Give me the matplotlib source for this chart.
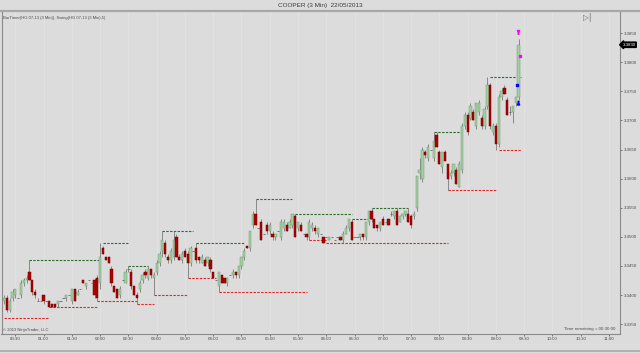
"""COOPER (3 Min) 22/05/2013 - NinjaTrader style candlestick chart with swing lines."""
import numpy as np
import matplotlib
matplotlib.use("Agg")
import matplotlib.pyplot as plt
import matplotlib.transforms as mtrans

plt.rcParams['font.family'] = ['Liberation Sans', 'DejaVu Sans']

TITLE = "COOPER (3 Min)  22/05/2013"
INDICATORS = "BarTimer(HG 07-13 (3 Min)), Swing(HG 07-13 (3 Min),5)"
FIRST_BAR = "00:18"

opens = [
    3.3390, 3.3395, 3.3375, 3.3395, 3.3400, 3.3395, 3.3400, 3.3420, 3.3425, 3.3440,
    3.3425, 3.3405, 3.3390, 3.3390, 3.3400, 3.3390, 3.3390, 3.3385, 3.3385, 3.3385,
    3.3390, 3.3395, 3.3395, 3.3400, 3.3390, 3.3410, 3.3400, 3.3410, 3.3425, 3.3415,
    3.3425, 3.3420, 3.3425, 3.3430, 3.3420, 3.3480, 3.3465, 3.3465, 3.3445, 3.3415,
    3.3410, 3.3400, 3.3425, 3.3420, 3.3445, 3.3440, 3.3415, 3.3400, 3.3410, 3.3425,
    3.3440, 3.3430, 3.3445, 3.3430, 3.3440, 3.3455, 3.3475, 3.3490, 3.3465, 3.3460,
    3.3465, 3.3500, 3.3465, 3.3460, 3.3475, 3.3470, 3.3455, 3.3475, 3.3480, 3.3465,
    3.3455, 3.3460, 3.3455, 3.3460, 3.3440, 3.3425, 3.3415, 3.3435, 3.3430, 3.3420,
    3.3435, 3.3435, 3.3440, 3.3435, 3.3450, 3.3465, 3.3485, 3.3480, 3.3520, 3.3540,
    3.3515, 3.3525, 3.3505, 3.3520, 3.3510, 3.3505, 3.3500, 3.3510, 3.3500, 3.3515,
    3.3520, 3.3515, 3.3520, 3.3535, 3.3515, 3.3520, 3.3505, 3.3505, 3.3500, 3.3515,
    3.3515, 3.3505, 3.3505, 3.3500, 3.3500, 3.3495, 3.3500, 3.3495, 3.3500, 3.3500,
    3.3495, 3.3505, 3.3515, 3.3525, 3.3500, 3.3500, 3.3500, 3.3505, 3.3500, 3.3525,
    3.3545, 3.3530, 3.3520, 3.3515, 3.3530, 3.3525, 3.3530, 3.3540, 3.3535, 3.3545,
    3.3525, 3.3535, 3.3540, 3.3540, 3.3535, 3.3535, 3.3550, 3.3610, 3.3600, 3.3645,
    3.3635, 3.3650, 3.3635, 3.3675, 3.3645, 3.3620, 3.3645, 3.3625, 3.3605, 3.3610,
    3.3615, 3.3585, 3.3615, 3.3690, 3.3710, 3.3705, 3.3715, 3.3690, 3.3715, 3.3705,
    3.3690, 3.3725, 3.3760, 3.3680, 3.3690, 3.3660, 3.3740, 3.3755, 3.3735, 3.3715,
    3.3715, 3.3730, 3.3740,
]
highs = [
    3.3400, 3.3400, 3.3395, 3.3410, 3.3410, 3.3395, 3.3425, 3.3430, 3.3435, 3.3460,
    3.3425, 3.3410, 3.3395, 3.3390, 3.3400, 3.3390, 3.3390, 3.3385, 3.3385, 3.3390,
    3.3390, 3.3395, 3.3400, 3.3400, 3.3410, 3.3410, 3.3410, 3.3410, 3.3425, 3.3420,
    3.3425, 3.3420, 3.3430, 3.3435, 3.3490, 3.3485, 3.3465, 3.3465, 3.3450, 3.3415,
    3.3410, 3.3415, 3.3425, 3.3445, 3.3450, 3.3445, 3.3415, 3.3405, 3.3425, 3.3440,
    3.3445, 3.3450, 3.3445, 3.3440, 3.3460, 3.3475, 3.3510, 3.3495, 3.3470, 3.3480,
    3.3510, 3.3505, 3.3470, 3.3475, 3.3480, 3.3475, 3.3485, 3.3475, 3.3490, 3.3465,
    3.3470, 3.3465, 3.3465, 3.3465, 3.3440, 3.3425, 3.3440, 3.3435, 3.3430, 3.3430,
    3.3435, 3.3445, 3.3440, 3.3450, 3.3465, 3.3480, 3.3485, 3.3510, 3.3545, 3.3565,
    3.3515, 3.3530, 3.3505, 3.3525, 3.3525, 3.3510, 3.3505, 3.3510, 3.3530, 3.3530,
    3.3525, 3.3530, 3.3540, 3.3540, 3.3525, 3.3525, 3.3505, 3.3505, 3.3530, 3.3525,
    3.3520, 3.3515, 3.3505, 3.3500, 3.3500, 3.3500, 3.3500, 3.3495, 3.3500, 3.3500,
    3.3510, 3.3520, 3.3530, 3.3530, 3.3500, 3.3500, 3.3505, 3.3505, 3.3525, 3.3545,
    3.3550, 3.3530, 3.3520, 3.3525, 3.3535, 3.3525, 3.3530, 3.3545, 3.3545, 3.3550,
    3.3535, 3.3540, 3.3545, 3.3550, 3.3540, 3.3545, 3.3605, 3.3635, 3.3655, 3.3650,
    3.3660, 3.3650, 3.3680, 3.3680, 3.3650, 3.3645, 3.3650, 3.3625, 3.3615, 3.3625,
    3.3620, 3.3630, 3.3695, 3.3715, 3.3715, 3.3730, 3.3720, 3.3730, 3.3735, 3.3710,
    3.3725, 3.3775, 3.3765, 3.3695, 3.3695, 3.3745, 3.3755, 3.3760, 3.3740, 3.3725,
    3.3725, 3.3740, 3.3840,
]
lows = [
    3.3385, 3.3370, 3.3370, 3.3390, 3.3395, 3.3395, 3.3395, 3.3415, 3.3420, 3.3425,
    3.3400, 3.3395, 3.3390, 3.3390, 3.3385, 3.3390, 3.3380, 3.3380, 3.3380, 3.3380,
    3.3390, 3.3395, 3.3390, 3.3400, 3.3385, 3.3390, 3.3400, 3.3410, 3.3420, 3.3410,
    3.3425, 3.3420, 3.3395, 3.3390, 3.3410, 3.3470, 3.3460, 3.3455, 3.3415, 3.3405,
    3.3395, 3.3395, 3.3425, 3.3420, 3.3440, 3.3410, 3.3400, 3.3385, 3.3405, 3.3420,
    3.3430, 3.3425, 3.3430, 3.3400, 3.3435, 3.3450, 3.3465, 3.3465, 3.3455, 3.3455,
    3.3460, 3.3465, 3.3460, 3.3455, 3.3465, 3.3430, 3.3450, 3.3475, 3.3455, 3.3455,
    3.3455, 3.3450, 3.3450, 3.3440, 3.3430, 3.3425, 3.3405, 3.3420, 3.3420, 3.3415,
    3.3435, 3.3430, 3.3430, 3.3430, 3.3445, 3.3460, 3.3480, 3.3475, 3.3515, 3.3520,
    3.3515, 3.3495, 3.3505, 3.3505, 3.3505, 3.3495, 3.3495, 3.3510, 3.3495, 3.3510,
    3.3510, 3.3515, 3.3515, 3.3500, 3.3510, 3.3510, 3.3505, 3.3495, 3.3495, 3.3510,
    3.3505, 3.3500, 3.3505, 3.3490, 3.3500, 3.3495, 3.3500, 3.3495, 3.3500, 3.3495,
    3.3490, 3.3505, 3.3510, 3.3495, 3.3500, 3.3500, 3.3495, 3.3495, 3.3495, 3.3520,
    3.3525, 3.3515, 3.3510, 3.3510, 3.3520, 3.3525, 3.3520, 3.3535, 3.3530, 3.3520,
    3.3525, 3.3530, 3.3535, 3.3525, 3.3515, 3.3530, 3.3545, 3.3600, 3.3595, 3.3635,
    3.3630, 3.3650, 3.3630, 3.3655, 3.3625, 3.3610, 3.3630, 3.3580, 3.3600, 3.3605,
    3.3590, 3.3585, 3.3610, 3.3685, 3.3675, 3.3700, 3.3700, 3.3685, 3.3710, 3.3685,
    3.3685, 3.3720, 3.3685, 3.3675, 3.3650, 3.3655, 3.3735, 3.3745, 3.3710, 3.3710,
    3.3695, 3.3725, 3.3735,
]
closes = [
    3.3395, 3.3375, 3.3390, 3.3405, 3.3410, 3.3395, 3.3420, 3.3425, 3.3430, 3.3425,
    3.3405, 3.3400, 3.3390, 3.3390, 3.3390, 3.3390, 3.3380, 3.3380, 3.3380, 3.3390,
    3.3390, 3.3395, 3.3400, 3.3400, 3.3410, 3.3390, 3.3405, 3.3410, 3.3420, 3.3420,
    3.3425, 3.3420, 3.3400, 3.3395, 3.3465, 3.3470, 3.3460, 3.3455, 3.3420, 3.3405,
    3.3395, 3.3410, 3.3425, 3.3440, 3.3445, 3.3415, 3.3400, 3.3395, 3.3420, 3.3435,
    3.3435, 3.3445, 3.3435, 3.3435, 3.3455, 3.3470, 3.3495, 3.3470, 3.3460, 3.3475,
    3.3495, 3.3465, 3.3460, 3.3470, 3.3465, 3.3455, 3.3480, 3.3475, 3.3460, 3.3460,
    3.3465, 3.3450, 3.3465, 3.3445, 3.3430, 3.3425, 3.3440, 3.3420, 3.3420, 3.3430,
    3.3435, 3.3440, 3.3435, 3.3450, 3.3465, 3.3475, 3.3480, 3.3510, 3.3540, 3.3520,
    3.3515, 3.3495, 3.3505, 3.3510, 3.3520, 3.3500, 3.3505, 3.3510, 3.3525, 3.3525,
    3.3510, 3.3525, 3.3540, 3.3500, 3.3525, 3.3510, 3.3505, 3.3500, 3.3525, 3.3520,
    3.3510, 3.3515, 3.3505, 3.3490, 3.3500, 3.3500, 3.3500, 3.3495, 3.3500, 3.3495,
    3.3505, 3.3515, 3.3530, 3.3495, 3.3500, 3.3500, 3.3505, 3.3500, 3.3525, 3.3545,
    3.3530, 3.3515, 3.3515, 3.3525, 3.3520, 3.3525, 3.3520, 3.3540, 3.3545, 3.3520,
    3.3535, 3.3540, 3.3545, 3.3525, 3.3520, 3.3540, 3.3605, 3.3615, 3.3650, 3.3640,
    3.3655, 3.3650, 3.3665, 3.3655, 3.3625, 3.3645, 3.3630, 3.3600, 3.3610, 3.3625,
    3.3590, 3.3625, 3.3690, 3.3710, 3.3680, 3.3725, 3.3700, 3.3730, 3.3730, 3.3690,
    3.3720, 3.3760, 3.3690, 3.3690, 3.3660, 3.3740, 3.3750, 3.3745, 3.3710, 3.3715,
    3.3725, 3.3740, 3.3830,
]

# swing lines: (start bar, end bar, price)
swing_high_start = [9, 35, 44, 56, 68, 89, 103, 123, 130, 152, 172]
swing_high_end = [34, 44, 51, 67, 85, 102, 123, 130, 143, 162, 183]
swing_high_price = [3.3460, 3.3490, 3.3450, 3.3510, 3.3490, 3.3565, 3.3540, 3.3530, 3.3550, 3.3680, 3.3775]

swing_low_start = [0, 16, 33, 47, 53, 65, 76, 108, 114, 157, 175]
swing_low_end = [16, 33, 47, 53, 65, 75, 107, 114, 157, 174, 183]
swing_low_price = [3.3360, 3.3380, 3.3390, 3.3385, 3.3400, 3.3430, 3.3405, 3.3495, 3.3490, 3.3580, 3.3650]

time_labels = ["00:30", "01:00", "01:30", "02:00", "02:30", "03:00", "03:30", "04:00",
               "04:30", "05:00", "05:30", "06:00", "06:30", "07:00", "07:30", "08:00",
               "08:30", "09:00", "09:30", "10:00", "10:30", "11:00"]
price_ticks = [3.3350, 3.3400, 3.3450, 3.3500, 3.3550, 3.3600, 3.3650,
               3.3700, 3.3750, 3.3800, 3.3850]

# trade markers on last bar
sell_arrow = (182, 3.3853, 3.3843)   # bar, tail, tip
buy_arrow = (182, 3.3727, 3.3738)
blue_mark = (181.6, 3.3760)
pink_mark = (182.4, 3.3810)

BG = "#dcdcdc"
UP = "#9fd19f"
DOWN = "#b00000"
WICK = "#7a7a7a"
TXT = "#4a4a4a"


def minutes(hhmm):
    h, m = hhmm.split(":")
    return int(h) * 60 + int(m)


o = np.array(opens); h = np.array(highs); l = np.array(lows); c = np.array(closes)
x = np.arange(len(o))
up = c > o
dn = c < o
dj = c == o

fig = plt.figure(figsize=(6.4, 3.53), dpi=100, facecolor=BG)
W, H = 640, 353
ax = fig.add_axes([1.5 / W, (H - 334) / H, (620 - 1.5) / W, (334 - 11) / H], facecolor=BG)

# grid at time ticks
tick_pos = [(minutes(t) - minutes(FIRST_BAR)) / 3 for t in time_labels]
for tp in tick_pos:
    ax.axvline(tp, color="#e4e4e4", lw=0.6, zorder=0)

# swing lines
ax.hlines(swing_high_price, swing_high_start, swing_high_end, colors="#2f6f2f",
          linestyles=(0, (2.2, 1.2)), lw=0.8, zorder=1)
ax.hlines(swing_low_price, swing_low_start, swing_low_end, colors="#e02828",
          linestyles=(0, (2.2, 1.2)), lw=0.8, zorder=1)

# candles
ax.vlines(x, l, h, color=WICK, lw=0.6, zorder=2)
bw = 0.8
ax.bar(x[up], (c - o)[up], bottom=o[up], width=bw, color=UP, edgecolor="#7d987d",
       lw=0.35, zorder=3)
ax.bar(x[dn], (o - c)[dn], bottom=c[dn], width=bw, color=DOWN, edgecolor="#700000",
       lw=0.35, zorder=3)
ax.hlines(c[dj], x[dj] - bw / 2, x[dj] + bw / 2, colors="#666666", lw=0.6, zorder=3)

# signal arrows and markers
ax.annotate("", xy=(sell_arrow[0], sell_arrow[2]), xytext=(sell_arrow[0], sell_arrow[1]),
            arrowprops=dict(arrowstyle="-|>", color="#ff00ff", lw=1.2, mutation_scale=3.5),
            zorder=4)
ax.annotate("", xy=(buy_arrow[0], buy_arrow[2]), xytext=(buy_arrow[0], buy_arrow[1]),
            arrowprops=dict(arrowstyle="-|>", color="#0000ff", lw=1.2, mutation_scale=3.5),
            zorder=4)
ax.plot(*blue_mark, "s", color="#0000ff", ms=1.6, zorder=5)
ax.plot(*pink_mark, "s", color="#ff00ff", ms=1.6, zorder=5)

ax.set_xlim(-0.9, 217.9)
ax.set_ylim(3.3333, 3.3888)

ax.set_xticks(tick_pos)
ax.set_xticklabels(time_labels)
ax.yaxis.tick_right()
ax.set_yticks(price_ticks)
ax.set_yticklabels([f"{p:.4f}" for p in price_ticks])
ax.tick_params(axis="both", labelsize=3.2, colors=TXT, length=1.5, width=0.5, pad=1)
ax.spines["top"].set_visible(False)
for s in ("left", "right", "bottom"):
    ax.spines[s].set_color("#8a8a8a")
    ax.spines[s].set_linewidth(0.8)

# current price label
trans = mtrans.blended_transform_factory(ax.transAxes, ax.transData)
ax.text(1.004, closes[-1], f"{closes[-1]:.4f}", transform=trans, fontsize=3.2,
        color="white", va="center", ha="left",
        bbox=dict(boxstyle="larrow,pad=0.15", fc="black", ec="black"))

# texts
ax.text(0.002, 0.985, INDICATORS, transform=ax.transAxes, fontsize=3, color=TXT,
        va="top", ha="left")
ax.text(0.002, 0.005, "\u00a9 2013 NinjaTrader, LLC", transform=ax.transAxes, fontsize=3,
        color=TXT, va="bottom", ha="left")
ax.text(0.992, 0.008, "Time remaining = 00:30:00", transform=ax.transAxes, fontsize=3.2,
        color=TXT, va="bottom", ha="right")
fig.text(320 / W, 1 - 5 / H, TITLE, fontsize=4.6, color="#3a3a3a", ha="center", va="center")
fig.text(587 / W, 1 - 17 / H, "\u25b7|", fontsize=5.5, color="#6a6a6a", ha="center",
         va="center", family="DejaVu Sans")

# frame lines of the window
fig.add_artist(plt.Line2D([0, 1], [1 - 10.5 / H, 1 - 10.5 / H], transform=fig.transFigure,
                          color="#a8a8a8", lw=1.6))
fig.add_artist(plt.Line2D([0, 1], [1 - 351 / H, 1 - 351 / H], transform=fig.transFigure,
                          color="#a8a8a8", lw=1.2))

fig.savefig("out.png", dpi=100, facecolor=BG)
